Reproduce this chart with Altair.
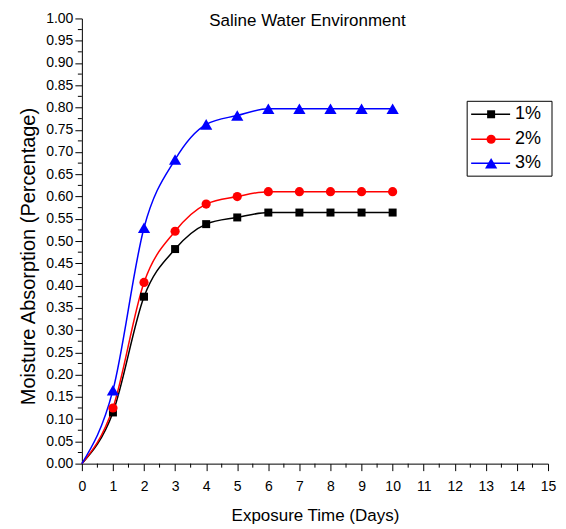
import altair as alt
import pandas as pd

# ---- data ----
days = [0, 1, 2, 3, 4, 5, 6, 7, 8, 9, 10]
s1 = [0.0, 0.115, 0.375, 0.482, 0.538, 0.553, 0.564, 0.564, 0.564, 0.564, 0.564]
s2 = [0.0, 0.125, 0.407, 0.522, 0.583, 0.600, 0.611, 0.611, 0.611, 0.611, 0.611]
s3 = [0.0, 0.165, 0.530, 0.683, 0.762, 0.782, 0.797, 0.797, 0.797, 0.797, 0.797]
series = ["1%", "2%", "3%"]
colors = ["#000000", "#ff0000", "#0000ff"]
shapes = ["square", "circle", "triangle-up"]
marker_sizes = [64, 85, 150]
x_ticks = list(range(0, 16))
y_ticks = [round(i * 0.05, 2) for i in range(0, 21)]
x_minor = [i + 0.5 for i in range(0, 15)]
y_minor = [round(i * 0.05 + 0.025, 3) for i in range(0, 20)]

rows = []
for name, vals in zip(series, [s1, s2, s3]):
    for d, v in zip(days, vals):
        rows.append({"day": d, "value": v, "series": name})
df = pd.DataFrame(rows)

W, H = 467, 446
FONT = "Liberation Sans"

color = alt.Color("series:N", scale=alt.Scale(domain=series, range=colors), legend=None)

xs = alt.Scale(domain=[0, 15], nice=False, zero=False)
ys = alt.Scale(domain=[0, 1], nice=False)

x_axis = alt.Axis(values=x_ticks, title="Exposure Time (Days)", format="d", grid=False,
                  labelOverlap=False, labelFlush=False,
                  tickSize=7, labelPadding=9, titlePadding=14, labelFontSize=14,
                  titleFontSize=17, labelFont=FONT, titleFont=FONT, titleFontWeight="normal",
                  domainColor="black", tickColor="black", labelColor="black", titleColor="black")
y_axis = alt.Axis(values=y_ticks, title="Moisture Absorption (Percentage)", format=".2f", grid=False,
                  labelOverlap=False, labelFlush=False,
                  tickSize=7, labelPadding=2, titlePadding=7, labelFontSize=14,
                  titleFontSize=20, titleY=238, labelFont=FONT, titleFont=FONT, titleFontWeight="normal",
                  domainColor="black", tickColor="black", labelColor="black", titleColor="black")

def X(field):
    return alt.X(field, scale=xs, axis=x_axis)

def Y(field):
    return alt.Y(field, scale=ys, axis=y_axis)

lines = alt.Chart(df).mark_line(interpolate="monotone", strokeWidth=1.5).encode(
    x=X("day:Q"), y=Y("value:Q"), color=color, detail="series:N",
)

point_layers = []
for name, shp, sz, col in zip(series, shapes, marker_sizes, colors):
    sub = df[(df["series"] == name) & (df["day"] > 0)]
    point_layers.append(alt.Chart(sub).mark_point(filled=True, opacity=1, shape=shp, size=sz,
                                                  color=col).encode(
        x=X("day:Q"), y=Y("value:Q")))

xminor = alt.Chart(pd.DataFrame({"day": x_minor})).mark_rule(color="black").encode(
    x=X("day:Q"), y=alt.value(H), y2=alt.value(H + 4))
yminor = alt.Chart(pd.DataFrame({"value": y_minor})).mark_rule(color="black").encode(
    y=Y("value:Q"), x=alt.value(0), x2=alt.value(-4))

title = alt.Chart(pd.DataFrame({"t": ["Saline Water Environment"]})).mark_text(
    font=FONT, fontSize=17, color="black", baseline="middle", align="center").encode(
    text="t:N", x=alt.value(226), y=alt.value(3))

# manual legend
box = alt.Chart(pd.DataFrame({"a": [0]})).mark_rect(fill="white", stroke="black", strokeWidth=1).encode(
    x=alt.value(386), x2=alt.value(471), y=alt.value(83), y2=alt.value(158))

legend_layers = []
row_px = [96, 121, 145]
for name, shp, sz, col, py in zip(series, shapes, marker_sizes, colors, row_px):
    d = pd.DataFrame({"series": [name]})
    legend_layers.append(alt.Chart(d).mark_rule(strokeWidth=1.5, color=col).encode(
        x=alt.value(390), x2=alt.value(429), y=alt.value(py)))
    legend_layers.append(alt.Chart(d).mark_point(filled=True, opacity=1, shape=shp, size=sz,
                                                 color=col).encode(
        x=alt.value(410), y=alt.value(py)))
    legend_layers.append(alt.Chart(d).mark_text(font=FONT, fontSize=18, align="left",
                                                baseline="middle", color="black").encode(
        x=alt.value(434), y=alt.value(py), text="series:N"))

chart = alt.layer(lines, *point_layers, xminor, yminor, title, box, *legend_layers).properties(
    width=W, height=H,
    autosize=alt.AutoSizeParams(type="none"),
    padding={"left": 74, "top": 10, "right": 10, "bottom": 60},
    background="white",
).configure_view(stroke=None)

chart.save("out.html", embed_options={"renderer": "svg", "actions": False})
